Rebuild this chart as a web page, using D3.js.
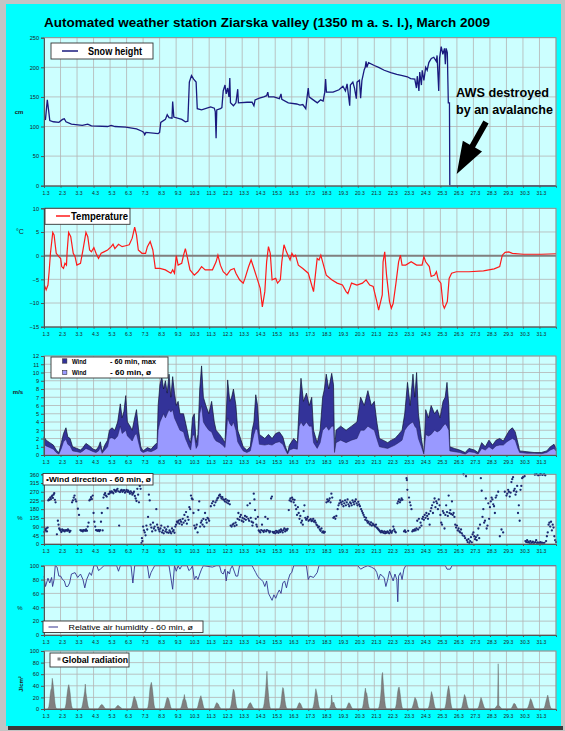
<!DOCTYPE html>
<html><head><meta charset="utf-8">
<script src="https://cdn.jsdelivr.net/npm/d3@7"></script>
<style>html,body{margin:0;padding:0;background:#c4c4c4;} svg{display:block;font-family:"Liberation Sans",Arial,sans-serif;}</style>
</head><body><svg id="c" width="565" height="731"></svg>
<script>
// ---- data: time is in days since 1 March 00:00 ----
const dayLabels = ["1.3","2.3","3.3","4.3","5.3","6.3","7.3","8.3","9.3","10.3","11.3","12.3","13.3","14.3","15.3","16.3","17.3","18.3","19.3","20.3","21.3","22.3","23.3","24.3","25.3","26.3","27.3","28.3","29.3","30.3","31.3"];
const snowTicks = [0,50,100,150,200,250];
const tempTicks = [-15,-10,-5,0,5,10];
const windTicks = [0,1,2,3,4,5,6,7,8,9,10,11,12];
const dirTicks = [0,45,90,135,180,225,270,315,360];
const humTicks = [0,20,40,60,80,100];
const radTicks = [0,20,40,60,80,100];

// snow height [day, cm]
const snow = [[0,113],[0.09,112],[0.2,145],[0.28,127],[0.35,110],[0.57,108],[0.9,107],[1.12,112],[1.23,113],[1.33,108],[1.66,104],[2.32,102],[2.65,104],[2.87,101],[3.85,100],[4.07,102],[4.3,100],[4.95,99],[5.6,96],[5.93,92],[6.04,90],[6.1,86],[6.17,90],[6.91,88],[7.0,90],[7.07,107],[7.35,112],[7.46,120],[7.57,115],[7.75,114],[7.79,142],[7.86,116],[8.34,112],[8.56,108],[8.71,109],[8.8,175],[8.93,186],[9.06,180],[9.21,175],[9.28,130],[9.54,128],[10.09,133],[10.31,131],[10.37,125],[10.42,80],[10.46,128],[10.68,130],[10.77,132],[10.85,160],[10.96,170],[11.03,155],[11.12,165],[11.2,150],[11.25,182],[11.29,140],[11.47,135],[11.62,140],[11.73,163],[11.77,140],[12.3,141],[12.6,141],[12.71,135],[12.78,145],[13.04,148],[13.3,150],[13.48,152],[13.55,158],[13.6,150],[13.92,150],[14.25,147],[14.35,155],[14.4,146],[14.79,140],[15.3,138],[15.5,136],[15.67,137],[15.85,130],[15.93,150],[16.0,165],[16.05,150],[16.3,145],[16.55,140],[16.75,145],[16.9,143],[17.0,158],[17.05,180],[17.1,158],[17.5,158],[17.86,162],[18.1,168],[18.25,160],[18.35,172],[18.51,135],[18.55,170],[18.7,175],[18.8,165],[18.91,147],[18.95,175],[19.1,178],[19.17,148],[19.25,178],[19.39,196],[19.45,200],[19.5,210],[19.55,200],[19.65,208],[20.0,203],[20.26,200],[20.6,195],[21.0,191],[21.36,188],[21.7,186],[22.0,184],[22.2,181],[22.45,180],[22.55,165],[22.6,185],[22.7,160],[22.75,192],[22.85,170],[22.9,195],[23.0,178],[23.11,200],[23.2,195],[23.3,208],[23.45,215],[23.6,217],[23.75,210],[23.8,220],[23.9,160],[23.95,215],[24.05,235],[24.15,222],[24.25,232],[24.3,205],[24.35,232],[24.42,225],[24.48,140],[24.55,140],[24.57,0],[31,0]];

// air temperature [day, °C]
const temperature = [[0,-6.2],[0.02,-6.2],[0.13,-7.2],[0.24,-6.2],[0.31,-3.4],[0.39,0.5],[0.53,4.9],[0.61,4.4],[0.74,0.5],[0.9,-0.2],[1.01,-0.6],[1.07,-2.3],[1.18,-2.7],[1.27,-1.6],[1.36,-2.0],[1.4,0.8],[1.49,4.9],[1.62,4.0],[1.77,0.5],[1.88,-0.2],[1.99,-2.0],[2.21,-1.6],[2.36,1.2],[2.54,4.9],[2.65,4.0],[2.76,1.2],[2.87,0.8],[3.02,1.7],[3.15,0.5],[3.3,-0.6],[3.46,0.5],[3.63,0.8],[3.85,1.2],[4.07,1.9],[4.18,2.4],[4.29,1.5],[4.51,2.4],[4.73,1.9],[4.95,2.1],[5.16,2.3],[5.34,3.7],[5.49,6.0],[5.6,4.4],[5.71,1.2],[5.93,0.5],[6.15,0.5],[6.26,1.9],[6.43,3.0],[6.59,1.2],[6.74,-2.7],[7.02,-2.7],[7.35,-3.0],[7.68,-3.7],[7.79,-3.0],[7.9,-3.7],[8.01,0],[8.12,-2.0],[8.34,-1.6],[8.45,0.1],[8.56,1.5],[8.67,-0.2],[8.84,-3.0],[9.1,-4.1],[9.32,-3.4],[9.54,-2.3],[9.76,-3.0],[10.2,-3.0],[10.42,-1.3],[10.53,0.1],[10.68,-2.0],[10.85,-3.4],[11.07,-4.1],[11.29,-3.0],[11.51,-2.7],[11.62,-3.7],[11.84,-5.1],[12.06,-5.8],[12.17,-4.8],[12.39,-2.3],[12.54,-0.9],[12.71,-2.7],[12.93,-5.1],[13.09,-6.9],[13.22,-10.8],[13.37,-7.6],[13.48,-1.3],[13.59,1.9],[13.7,0.5],[13.81,-5.1],[14.03,-4.8],[14.14,-5.8],[14.31,-5.1],[14.4,-1.3],[14.53,2.3],[14.68,0.8],[14.9,-0.9],[15.01,0.5],[15.12,-0.2],[15.23,0.1],[15.4,-2.0],[15.67,-2.7],[16.0,-3.7],[16.15,-5.5],[16.32,-7.6],[16.43,-4.1],[16.54,-0.6],[16.65,-0.9],[16.76,0.1],[16.87,-1.3],[17.09,-4.1],[17.42,-5.1],[17.75,-5.8],[18.07,-6.2],[18.29,-7.6],[18.4,-8.0],[18.51,-6.9],[18.62,-5.8],[18.95,-6.2],[19.28,-5.8],[19.5,-5.1],[19.72,-6.2],[19.93,-6.5],[20.15,-9.7],[20.26,-11.5],[20.48,-8.3],[20.53,-1.3],[20.63,0.8],[20.74,-4.1],[20.92,-9.7],[21.03,-11.1],[21.14,-10.1],[21.31,-5.8],[21.47,-1.3],[21.58,0.1],[21.68,-2.0],[21.9,-2.0],[22.23,-1.3],[22.56,-2.0],[22.89,-2.0],[23.0,-0.2],[23.11,-1.3],[23.33,-2.3],[23.44,-4.4],[23.65,-4.1],[23.76,-3.4],[23.87,-5.1],[24.03,-5.8],[24.16,-10.4],[24.24,-11.1],[24.42,-9.7],[24.53,-4.8],[24.68,-3.7],[24.97,-3.4],[25.73,-3.4],[26.61,-3.2],[27.26,-2.8],[27.59,-2.3],[27.75,0.1],[27.92,0.7],[28.14,0.8],[28.36,0.5],[29.02,0.3],[30.11,0.3],[31.0,0.4]];

// wind speed [day, 60 min mean, 60 min max]  (m/s)
const wind = [[0,1.3,2.2],[0.13,1.1,1.8],[0.35,0.9,1.5],[0.57,0.7,1.2],[0.74,0.3,0.6],[0.9,0.1,0.3],[1.05,0.8,1.5],[1.18,1.6,2.6],[1.33,1.9,3.3],[1.44,1.3,2.2],[1.58,1.1,2.0],[1.73,0.5,1.0],[1.99,0.4,0.8],[2.21,0.3,0.6],[2.36,0.5,0.9],[2.54,0.8,1.4],[2.76,0.6,1.1],[2.98,0.4,0.7],[3.15,0.3,0.6],[3.3,0.5,1.0],[3.41,0.9,1.6],[3.52,0.2,0.4],[3.68,0.6,1.2],[3.85,1.0,1.8],[3.96,2.0,3.0],[4.11,2.1,3.3],[4.29,1.9,3.0],[4.46,2.3,4.0],[4.62,3.5,6.2],[4.73,2.6,4.5],[4.84,2.8,5.3],[4.95,3.0,7.2],[5.05,2.3,4.0],[5.21,2.0,3.5],[5.34,1.7,3.0],[5.49,2.4,4.5],[5.6,2.6,5.5],[5.73,1.5,3.0],[5.86,0.5,1.0],[6.0,0.3,0.5],[6.26,0.5,0.9],[6.48,0.4,0.7],[6.7,0.6,1.2],[6.85,0.8,1.5],[6.91,3.0,6.0],[7.02,4.0,8.5],[7.13,4.5,9.5],[7.24,5.0,8.0],[7.35,4.5,9.0],[7.46,5.0,7.5],[7.57,5.5,9.8],[7.68,5.2,7.0],[7.79,5.5,9.5],[7.9,4.5,7.5],[8.01,4.0,6.0],[8.12,3.5,6.5],[8.23,3.0,5.0],[8.45,2.8,5.0],[8.56,2.0,4.0],[8.67,1.5,3.0],[8.77,1.0,2.0],[8.88,0.6,1.5],[8.99,2.3,4.5],[9.1,2.5,5.0],[9.21,0.8,1.5],[9.32,1.2,2.5],[9.43,5.0,8.0],[9.54,6.0,10.8],[9.65,4.0,7.0],[9.8,3.5,6.0],[9.98,3.0,5.0],[10.15,2.8,6.5],[10.31,2.0,4.0],[10.42,1.7,3.0],[10.63,1.5,2.5],[10.81,1.2,2.0],[10.96,0.9,1.5],[11.12,4.5,9.1],[11.25,3.8,6.5],[11.36,3.5,7.0],[11.47,4.0,8.0],[11.62,3.0,6.0],[11.73,1.6,3.0],[11.9,1.0,2.0],[12.06,0.5,1.0],[12.28,0.3,0.6],[12.49,0.5,1.0],[12.6,1.5,3.0],[12.71,2.5,4.0],[12.82,3.2,7.3],[12.93,3.0,6.0],[13.04,1.3,2.5],[13.37,1.2,2.0],[13.59,1.3,2.5],[13.81,1.2,2.0],[14.03,1.5,2.6],[14.25,1.6,2.8],[14.46,1.3,2.2],[14.62,0.6,1.0],[14.75,0.1,0.3],[14.86,0.6,1.2],[15.12,0.8,2.0],[15.34,0.7,1.5],[15.45,3.5,6.0],[15.56,4.0,9.3],[15.71,3.5,6.5],[15.89,4.0,7.5],[16.06,3.5,6.0],[16.21,3.5,7.0],[16.32,1.5,3.0],[16.54,0.8,1.5],[16.72,1.5,3.0],[16.87,3.0,7.0],[16.98,3.2,8.0],[17.09,3.5,9.8],[17.24,3.0,8.0],[17.42,3.5,9.9],[17.53,3.5,8.5],[17.59,0.3,0.3],[17.68,1.5,3.0],[17.96,1.8,3.5],[18.29,1.5,3.0],[18.62,1.8,3.5],[18.95,2.0,4.0],[19.17,3.0,7.0],[19.39,3.0,6.0],[19.61,3.5,7.8],[19.82,3.2,6.0],[20.0,3.0,6.5],[20.15,2.0,4.0],[20.31,1.0,2.0],[20.53,0.9,1.8],[20.81,0.8,1.5],[21.03,1.0,1.8],[21.25,1.2,2.0],[21.47,1.5,2.5],[21.68,1.8,3.0],[21.84,3.0,5.0],[22.01,3.5,8.8],[22.17,3.8,6.0],[22.34,4.0,9.8],[22.45,3.5,7.0],[22.56,3.2,10.0],[22.67,2.0,5.0],[22.85,1.0,2.0],[23.0,0.1,0.1],[23.11,2.5,5.5],[23.28,2.3,4.5],[23.44,2.5,6.0],[23.65,3.0,5.0],[23.81,2.8,5.5],[23.98,3.0,4.5],[24.16,3.5,6.5],[24.29,3.8,7.0],[24.4,3.5,8.8],[24.51,3.0,6.0],[24.57,0.5,1.0],[24.84,0.4,0.8],[25.17,0.3,0.6],[25.5,0.1,0.3],[25.73,0.4,0.8],[26.06,0.3,0.6],[26.28,0.1,0.3],[26.5,0.8,1.5],[26.72,0.6,1.0],[26.94,1.0,1.8],[27.16,0.7,1.2],[27.37,1.1,1.8],[27.59,1.2,2.0],[27.81,1.2,1.7],[28.03,1.6,2.5],[28.18,1.8,3.0],[28.36,2.0,3.3],[28.53,1.8,2.8],[28.69,0.8,1.5],[28.8,0.3,0.5],[29.24,0.2,0.4],[29.67,0.2,0.3],[30.11,0.15,0.3],[30.44,0.3,0.5],[30.66,0.6,1.0],[30.88,0.8,1.3],[31.0,0.5,0.8]];

// wind direction, 60 min mean [day, degrees]
const windDir = [[0.02,62],[0.06,75],[0.1,70],[0.14,80],[0.18,65],[0.22,85],[0.26,225],[0.3,230],[0.34,228],[0.38,240],[0.42,232],[0.46,245],[0.5,250],[0.54,238],[0.58,255],[0.62,262],[0.66,228],[0.7,215],[0.78,50],[0.84,120],[0.88,100],[0.92,80],[0.96,75],[1.0,70],[1.05,62],[1.1,75],[1.15,68],[1.2,72],[1.25,65],[1.3,70],[1.35,72],[1.4,68],[1.45,75],[1.5,70],[1.55,62],[1.6,68],[1.7,215],[1.75,225],[1.8,240],[1.85,250],[1.9,230],[1.95,220],[2.05,182],[2.12,150],[2.2,72],[2.25,68],[2.3,70],[2.35,65],[2.4,72],[2.45,70],[2.5,68],[2.55,75],[2.6,68],[2.65,90],[2.7,110],[2.75,225],[2.8,230],[2.85,242],[2.9,232],[2.95,250],[3.0,160],[3.05,115],[3.1,90],[3.15,72],[3.2,70],[3.25,68],[3.3,72],[3.35,66],[3.4,72],[3.45,115],[3.5,160],[3.55,70],[3.6,240],[3.65,255],[3.7,262],[3.75,250],[3.8,245],[3.85,185],[3.9,258],[3.95,260],[4.0,270],[4.05,265],[4.1,272],[4.15,268],[4.2,262],[4.25,280],[4.3,275],[4.35,270],[4.4,278],[4.45,285],[4.5,272],[4.55,95],[4.6,268],[4.65,275],[4.7,280],[4.75,270],[4.8,275],[4.85,278],[4.9,265],[4.95,272],[5.0,280],[5.05,270],[5.1,275],[5.15,268],[5.2,260],[5.25,272],[5.3,265],[5.35,255],[5.4,262],[5.45,270],[5.5,248],[5.55,235],[5.6,222],[5.65,285],[5.7,255],[5.75,215],[5.8,300],[5.85,285],[5.9,5],[5.93,30],[5.96,15],[6.0,90],[6.05,70],[6.1,60],[6.15,45],[6.2,95],[6.25,75],[6.3,140],[6.35,255],[6.4,225],[6.45,100],[6.5,85],[6.55,65],[6.6,110],[6.65,80],[6.7,90],[6.75,70],[6.8,180],[6.85,100],[6.9,85],[6.95,75],[7.0,65],[7.05,80],[7.1,95],[7.15,60],[7.2,70],[7.25,55],[7.3,85],[7.35,65],[7.4,75],[7.45,60],[7.5,90],[7.55,58],[7.6,70],[7.65,62],[7.7,55],[7.75,80],[7.8,65],[7.85,72],[7.9,58],[7.95,90],[8.0,100],[8.05,115],[8.1,110],[8.15,120],[8.2,105],[8.25,125],[8.3,115],[8.35,100],[8.4,130],[8.45,110],[8.5,150],[8.55,120],[8.6,165],[8.65,105],[8.7,140],[8.75,125],[8.8,190],[8.85,180],[8.9,250],[8.95,235],[9.0,230],[9.05,160],[9.1,95],[9.15,80],[9.2,85],[9.25,100],[9.3,60],[9.35,175],[9.4,220],[9.45,90],[9.5,110],[9.55,120],[9.6,100],[9.65,130],[9.7,90],[9.75,160],[9.8,125],[9.85,110],[9.9,135],[9.95,130],[10.0,120],[10.1,195],[10.17,210],[10.24,220],[10.31,200],[10.38,215],[10.45,225],[10.5,235],[10.55,240],[10.6,250],[10.65,255],[10.7,245],[10.75,235],[10.8,242],[10.85,230],[10.9,228],[10.95,220],[11.0,232],[11.05,215],[11.1,225],[11.15,210],[11.2,222],[11.25,205],[11.3,95],[11.36,90],[11.42,100],[11.48,105],[11.54,92],[11.6,110],[11.66,98],[11.72,130],[11.77,160],[11.82,125],[11.87,140],[11.92,150],[11.97,120],[12.02,135],[12.07,115],[12.12,130],[12.17,145],[12.22,125],[12.27,140],[12.32,200],[12.37,130],[12.42,120],[12.47,210],[12.52,135],[12.57,115],[12.62,95],[12.66,110],[12.7,260],[12.74,230],[12.78,175],[12.82,130],[12.86,100],[12.9,90],[12.95,140],[13.0,70],[13.05,65],[13.1,60],[13.15,72],[13.2,100],[13.25,68],[13.3,62],[13.35,70],[13.4,140],[13.45,65],[13.5,72],[13.55,130],[13.6,68],[13.65,60],[13.7,65],[13.75,235],[13.8,245],[13.85,62],[13.9,58],[13.95,62],[14.0,55],[14.05,68],[14.1,60],[14.15,65],[14.2,58],[14.25,70],[14.3,62],[14.35,75],[14.4,68],[14.45,60],[14.5,72],[14.55,80],[14.6,65],[14.65,75],[14.7,70],[14.75,78],[14.82,175],[14.87,225],[14.92,235],[14.97,220],[15.02,240],[15.07,230],[15.12,215],[15.17,228],[15.22,200],[15.27,180],[15.32,150],[15.37,190],[15.42,160],[15.47,130],[15.52,145],[15.57,110],[15.62,120],[15.67,100],[15.72,170],[15.77,200],[15.82,135],[15.87,125],[15.92,130],[15.97,140],[16.02,120],[16.1,125],[16.15,128],[16.2,118],[16.25,122],[16.3,130],[16.35,115],[16.4,120],[16.45,110],[16.5,100],[16.55,95],[16.6,85],[16.65,90],[16.7,75],[16.75,68],[16.8,80],[16.85,60],[16.9,65],[16.95,58],[17.0,62],[17.1,215],[17.15,230],[17.2,220],[17.25,225],[17.3,235],[17.35,215],[17.4,260],[17.45,240],[17.52,135],[17.58,140],[17.64,130],[17.7,145],[17.78,180],[17.83,200],[17.88,210],[17.93,225],[17.98,215],[18.03,205],[18.08,220],[18.13,195],[18.18,210],[18.23,225],[18.28,200],[18.33,215],[18.38,230],[18.43,205],[18.48,195],[18.53,215],[18.58,210],[18.63,200],[18.68,225],[18.73,215],[18.78,205],[18.83,220],[18.88,230],[18.93,210],[18.98,200],[19.03,218],[19.08,205],[19.13,195],[19.2,180],[19.25,170],[19.3,160],[19.35,150],[19.4,140],[19.45,125],[19.5,135],[19.55,120],[19.6,110],[19.65,115],[19.7,105],[19.75,100],[19.8,112],[19.85,95],[19.9,105],[19.95,100],[20.0,95],[20.05,90],[20.1,100],[20.15,85],[20.2,80],[20.25,75],[20.3,70],[20.35,65],[20.4,60],[20.45,68],[20.5,62],[20.55,58],[20.6,65],[20.65,55],[20.7,62],[20.75,58],[20.8,65],[20.85,60],[20.9,55],[20.95,70],[21.0,62],[21.05,58],[21.1,68],[21.15,90],[21.2,75],[21.25,65],[21.3,60],[21.4,210],[21.45,220],[21.5,230],[21.55,215],[21.6,225],[21.65,235],[21.7,228],[21.8,65],[21.85,70],[21.9,62],[21.95,340],[21.97,330],[22.0,280],[22.05,68],[22.1,240],[22.15,215],[22.2,200],[22.25,180],[22.3,65],[22.35,72],[22.4,68],[22.45,75],[22.5,70],[22.55,80],[22.6,120],[22.65,75],[22.7,130],[22.75,85],[22.8,110],[22.85,95],[22.9,130],[22.95,140],[23.0,125],[23.05,150],[23.1,135],[23.15,160],[23.2,145],[23.25,130],[23.3,155],[23.35,100],[23.4,170],[23.45,185],[23.5,200],[23.55,160],[23.6,215],[23.65,235],[23.7,190],[23.75,220],[23.8,210],[23.85,180],[23.9,230],[23.95,200],[24.0,150],[24.05,110],[24.1,100],[24.15,170],[24.2,160],[24.25,80],[24.3,150],[24.35,200],[24.4,165],[24.45,145],[24.5,250],[24.55,160],[24.6,175],[24.65,155],[24.7,220],[24.75,150],[24.8,160],[24.85,140],[24.9,100],[24.95,85],[25.0,95],[25.05,70],[25.1,80],[25.15,65],[25.2,60],[25.25,75],[25.3,55],[25.35,45],[25.4,360],[25.45,40],[25.5,30],[25.55,350],[25.6,20],[25.65,10],[25.7,25],[25.75,5],[25.8,15],[25.85,35],[25.9,8],[25.95,50],[26.0,60],[26.05,40],[26.1,25],[26.15,35],[26.2,20],[26.25,45],[26.3,80],[26.35,30],[26.4,100],[26.45,340],[26.5,275],[26.55,140],[26.6,180],[26.65,110],[26.7,120],[26.75,235],[26.8,80],[26.85,95],[26.9,210],[26.95,130],[27.0,190],[27.05,220],[27.1,240],[27.15,230],[27.2,205],[27.25,195],[27.3,160],[27.35,240],[27.4,250],[27.5,270],[27.6,40],[27.7,75],[27.8,60],[27.9,270],[28.0,250],[28.05,260],[28.1,280],[28.15,270],[28.2,245],[28.25,265],[28.3,320],[28.35,335],[28.4,345],[28.45,275],[28.5,285],[28.55,255],[28.6,270],[28.65,300],[28.7,160],[28.75,200],[28.8,120],[28.85,280],[28.9,300],[28.95,340],[29.0,345],[29.1,350],[29.15,15],[29.2,10],[29.25,20],[29.3,8],[29.35,12],[29.4,5],[29.45,15],[29.5,3],[29.55,8],[29.6,12],[29.65,2],[29.7,6],[29.75,10],[29.8,20],[29.85,4],[29.9,8],[29.95,2],[30.0,5],[30.05,10],[30.1,3],[30.15,7],[30.2,0],[30.25,4],[30.3,6],[29.72,358],[29.82,360],[29.92,355],[30.02,358],[30.08,360],[30.18,357],[30.28,360],[30.35,355],[30.4,15],[30.45,40],[30.5,60],[30.55,100],[30.6,110],[30.65,90],[30.7,115],[30.75,70],[30.8,100],[30.85,85],[30.9,40],[30.95,20],[31.0,10]];

// relative air humidity, 60 min mean [day, %]
const humidity = [[0,85],[0.09,70],[0.24,82],[0.35,75],[0.46,83],[0.52,70],[0.61,80],[0.68,100],[0.79,98],[0.9,85],[1.01,85],[1.12,80],[1.23,78],[1.33,70],[1.44,70],[1.55,75],[1.66,88],[1.88,90],[2.04,83],[2.21,88],[2.36,80],[2.47,68],[2.58,80],[2.76,90],[2.87,86],[3.02,100],[3.2,100],[3.3,93],[3.41,95],[3.63,100],[4.4,100],[4.51,92],[4.62,100],[5.27,100],[5.38,75],[5.49,100],[6.26,100],[6.37,82],[6.48,90],[6.59,95],[6.7,100],[7.57,100],[7.79,66],[7.9,100],[8.01,92],[8.12,100],[8.23,95],[8.34,100],[8.67,100],[8.77,93],[8.88,95],[8.99,100],[9.1,80],[9.21,85],[9.32,80],[9.43,88],[9.54,95],[9.65,100],[10.2,98],[10.42,100],[10.63,100],[10.74,90],[10.85,88],[10.96,95],[11.03,78],[11.12,92],[11.23,88],[11.29,95],[11.4,100],[11.62,85],[11.73,85],[11.84,100],[12.6,100],[12.71,95],[12.82,90],[12.93,85],[13.04,82],[13.15,80],[13.26,77],[13.37,70],[13.48,78],[13.59,60],[13.7,55],[13.81,50],[13.92,58],[14.03,53],[14.14,60],[14.25,65],[14.35,60],[14.46,75],[14.57,78],[14.68,68],[14.79,80],[14.9,88],[15.0,90],[15.12,100],[15.89,100],[16.0,80],[16.1,85],[16.32,83],[16.54,90],[16.65,100],[19.0,100],[19.17,95],[19.39,98],[19.61,100],[19.82,98],[20.04,95],[20.15,90],[20.26,80],[20.37,88],[20.48,85],[20.59,83],[20.7,70],[20.81,80],[20.92,92],[21.03,85],[21.14,78],[21.25,88],[21.36,80],[21.42,48],[21.47,85],[21.58,90],[21.68,80],[21.79,95],[21.9,100],[24.3,100],[24.4,95],[24.6,95],[24.7,100],[31,100]];

// global radiation: hourly sums for 05..19 h of each day of March (J/cm²)
const radHours = [5,6,7,8,9,10,11,12,13,14,15,16,17,18,19];
const radiation = [
 [0,1,4,12,25,33,36,53,45,35,22,10,3,1,0],[0,1,3,9,20,30,38,42,36,28,15,6,2,0,0],[0,1,3,8,15,22,30,43,28,20,12,5,2,0,0],
 [0,0,1,2,4,6,7,8,7,6,4,2,1,0,0],[0,0,1,2,3,5,6,6,5,4,3,2,1,0,0],[0,1,2,6,12,18,22,20,17,14,9,4,1,0,0],
 [0,1,3,10,22,36,42,46,40,30,18,7,2,0,0],[0,1,2,6,11,16,20,19,18,14,9,4,1,0,0],[0,1,2,6,11,16,18,25,17,15,10,4,1,0,0],
 [0,1,2,7,12,17,20,23,18,14,8,3,1,0,0],[0,0,1,3,6,9,11,10,9,7,4,2,1,0,0],[0,1,3,8,16,26,34,33,27,18,9,3,1,0,0],
 [0,0,1,3,6,9,10,11,9,7,4,2,1,0,0],[0,1,4,10,20,32,48,65,42,28,14,5,1,0,0],[0,1,3,8,18,30,37,35,26,16,8,3,1,0,0],
 [0,0,1,3,6,9,11,10,9,6,3,1,0,0,0],[0,1,3,8,16,26,35,30,24,16,8,3,1,0,0],[0,0,1,4,8,24,12,9,12,8,4,2,1,0,0],
 [0,0,1,3,6,9,11,10,8,5,3,1,0,0,0],[0,1,3,9,18,28,36,29,27,20,10,4,1,0,0],[0,1,4,10,20,35,58,63,46,30,16,6,1,0,0],
 [0,1,3,9,20,30,36,38,32,22,12,5,1,0,0],[0,1,2,6,10,15,20,18,16,12,6,2,1,0,0],[0,1,3,7,14,22,30,26,21,15,8,3,1,0,0],
 [0,1,3,9,18,28,35,40,33,24,12,5,1,0,0],[0,1,2,7,13,19,25,22,19,13,7,3,1,0,0],[0,1,2,5,10,15,20,17,13,9,5,2,1,0,0],
 [0,0,1,2,4,5,7,78,6,5,3,2,1,0,0],[0,0,1,3,5,8,10,9,8,5,3,1,0,0,0],[0,1,2,5,9,14,18,16,13,9,5,2,1,0,0],
 [0,1,2,6,11,16,20,24,19,13,7,3,1,0,0]];

// ---- drawing ----
const svg = d3.select('#c');
const FONT = '"Liberation Sans", Arial, sans-serif';
const X0 = 44, X1 = 556;
const x = d3.scaleLinear().domain([0, 31]).range([X0, X1]);

// page background
svg.append('rect').attr('width',565).attr('height',731).attr('fill','#c4c4c4');
svg.append('rect').attr('x',8).attr('y',726).attr('width',555).attr('height',4).attr('fill','#3a3a3a');
svg.append('rect').attr('x',6).attr('y',4).attr('width',555).attr('height',722).attr('fill','#00ffff');

svg.append('text').attr('x',44).attr('y',27).attr('font-size',13).attr('font-weight','bold')
  .attr('textLength',446).attr('lengthAdjust','spacingAndGlyphs')
  .text('Automated weather station Ziarska valley (1350 m a. s. l.), March 2009');

function panel(top, bottom, domain, ticks) {
  const y = d3.scaleLinear().domain(domain).range([bottom, top]);
  const bg = svg.append('g'), marks = svg.append('g'), ax = svg.append('g');
  bg.append('rect').attr('x',X0).attr('y',top).attr('width',X1-X0).attr('height',bottom-top).attr('fill','#ccffff');
  bg.selectAll(null).data(ticks).join('line')
    .attr('x1',X0).attr('x2',X1).attr('y1',d=>y(d)).attr('y2',d=>y(d))
    .attr('stroke','#b4b4b4').attr('stroke-width',0.8);
  bg.selectAll(null).data(d3.range(1,32)).join('line')
    .attr('x1',d=>x(d)).attr('x2',d=>x(d)).attr('y1',top).attr('y2',bottom)
    .attr('stroke','#b4b4b4').attr('stroke-width',0.8);
  ax.append('rect').attr('x',X0).attr('y',top).attr('width',X1-X0).attr('height',bottom-top)
    .attr('fill','none').attr('stroke','#8a8a8a').attr('stroke-width',0.8);
  const yAxis = ax.append('g').attr('transform',`translate(${X0},0)`)
    .call(d3.axisLeft(y).tickValues(ticks).tickSize(3).tickPadding(2));
  yAxis.selectAll('text').attr('font-size',5.6).attr('font-family',FONT).attr('fill','#222');
  const xAxis = ax.append('g').attr('transform',`translate(0,${bottom})`)
    .call(d3.axisBottom(x).tickValues(d3.range(0,31)).tickFormat(i=>dayLabels[i]).tickSize(2).tickPadding(3.5));
  xAxis.selectAll('text').attr('font-size',5).attr('font-family',FONT).attr('fill','#222').attr('dx',1.5);
  ax.selectAll('.domain').attr('stroke','#555').attr('stroke-width',1);
  ax.selectAll('.tick line').attr('stroke','#555');
  return {y, marks, ax};
}

function legendBox(g, x0, y0, w, h) {
  g.append('rect').attr('x',x0).attr('y',y0).attr('width',w).attr('height',h)
    .attr('fill','#ffffff').attr('stroke','#333').attr('stroke-width',0.9);
}
function unitLabel(txt, x0, y0, size, bold) {
  svg.append('text').attr('x',x0).attr('y',y0).attr('text-anchor','middle')
    .attr('font-size',size).attr('font-weight',bold?'bold':'normal').attr('fill','#222').text(txt);
}

// --- snow height ---
{
  const p = panel(37.7, 185.7, [0,250], snowTicks);
  p.marks.append('path').datum(snow)
    .attr('d', d3.line().x(d=>x(d[0])).y(d=>p.y(d[1])))
    .attr('fill','none').attr('stroke','#1a1a7e').attr('stroke-width',1.3);
  legendBox(p.ax, 51, 43, 102, 16);
  p.ax.append('line').attr('x1',62).attr('x2',78).attr('y1',51).attr('y2',51).attr('stroke','#1a1a7e').attr('stroke-width',1.5);
  p.ax.append('text').attr('x',88).attr('y',54.5).attr('font-size',10).attr('font-weight','bold')
    .attr('textLength',54).attr('lengthAdjust','spacingAndGlyphs').text('Snow height');
  unitLabel('cm', 19, 114, 6, true);
  // annotation
  p.ax.append('text').attr('x',456).attr('y',97).attr('font-size',12.5).attr('font-weight','bold')
    .attr('textLength',93).attr('lengthAdjust','spacingAndGlyphs').text('AWS destroyed');
  p.ax.append('text').attr('x',456).attr('y',114).attr('font-size',12.5).attr('font-weight','bold')
    .attr('textLength',97).attr('lengthAdjust','spacingAndGlyphs').text('by an avalanche');
  // arrow pointing at the drop
  const S = [486,122], T = [x(25.05)-1, 174];
  const dx = T[0]-S[0], dy = T[1]-S[1], L = Math.hypot(dx,dy);
  const ux = dx/L, uy = dy/L, nx = -uy, ny = ux;
  const hl = 32, hw = 11, sw = 3;
  const B = [T[0]-ux*hl, T[1]-uy*hl];
  const pts = [
    [S[0]+nx*sw, S[1]+ny*sw], [B[0]+nx*sw, B[1]+ny*sw], [B[0]+nx*hw, B[1]+ny*hw], T,
    [B[0]-nx*hw, B[1]-ny*hw], [B[0]-nx*sw, B[1]-ny*sw], [S[0]-nx*sw, S[1]-ny*sw]];
  p.ax.append('path').attr('d', d3.line()(pts)+'Z').attr('fill','#000');
}

// --- temperature ---
{
  const p = panel(208.3, 326.7, [-15,10], tempTicks);
  p.marks.append('line').attr('x1',X0).attr('x2',X1).attr('y1',p.y(0)).attr('y2',p.y(0))
    .attr('stroke','#808080').attr('stroke-width',2);
  p.marks.append('path').datum(temperature)
    .attr('d', d3.line().x(d=>x(d[0])).y(d=>p.y(d[1])))
    .attr('fill','none').attr('stroke','#ff1a1a').attr('stroke-width',1.2);
  legendBox(p.ax, 45, 208.3, 85, 16);
  p.ax.append('line').attr('x1',56).attr('x2',70).attr('y1',216).attr('y2',216).attr('stroke','#ff1a1a').attr('stroke-width',1.5);
  p.ax.append('text').attr('x',71).attr('y',219.5).attr('font-size',10).attr('font-weight','bold')
    .attr('textLength',57).attr('lengthAdjust','spacingAndGlyphs').text('Temperature');
  unitLabel('°C', 20, 234, 7, false);
}

// --- wind speed ---
{
  const p = panel(356, 455, [0,12], windTicks);
  p.marks.append('path').datum(wind)
    .attr('d', d3.area().x(d=>x(d[0])).y0(p.y(0)).y1(d=>p.y(d[2])))
    .attr('fill','#333399').attr('stroke','#111133').attr('stroke-width',0.7);
  p.marks.append('path').datum(wind)
    .attr('d', d3.area().x(d=>x(d[0])).y0(p.y(0)).y1(d=>p.y(d[1])))
    .attr('fill','#9999ff');
  p.marks.append('path').datum(wind)
    .attr('d', d3.line().x(d=>x(d[0])).y(d=>p.y(d[1])))
    .attr('fill','none').attr('stroke','#222255').attr('stroke-width',0.5);
  legendBox(p.ax, 51, 357, 117, 21);
  [[361,'#333399','- 60 min, max',46],[372.5,'#9999ff','- 60 min, ø',41]].forEach(([cy,col,t,w])=>{
    p.ax.append('rect').attr('x',62.5).attr('y',cy-2.2).attr('width',4.4).attr('height',4.4)
      .attr('fill',col).attr('stroke','#222').attr('stroke-width',0.5);
    p.ax.append('text').attr('x',72).attr('y',cy+2.6).attr('font-size',7.5).attr('font-weight','bold')
      .attr('textLength',14.5).attr('lengthAdjust','spacingAndGlyphs').text('Wind');
    p.ax.append('text').attr('x',110).attr('y',cy+2.6).attr('font-size',7.5).attr('font-weight','bold')
      .attr('textLength',w).attr('lengthAdjust','spacingAndGlyphs').text(t);
  });
  unitLabel('m/s', 18, 394, 6, true);
}

// --- wind direction ---
{
  const p = panel(474.3, 544, [0,360], dirTicks);
  p.marks.selectAll(null).data(windDir).join('circle')
    .attr('cx',d=>x(d[0])).attr('cy',d=>p.y(d[1])).attr('r',1.15).attr('fill','#1c2870');
  legendBox(p.ax, 43, 473.5, 110, 11.5);
  p.ax.append('text').attr('x',46).attr('y',482).attr('font-size',7.5).attr('font-weight','bold')
    .attr('textLength',105).attr('lengthAdjust','spacingAndGlyphs').text('•Wind direction - 60 min, ø');
  unitLabel('%', 20, 520, 6, false);
}

// --- relative humidity ---
{
  const p = panel(565.7, 635, [0,100], humTicks);
  p.marks.append('path').datum(humidity)
    .attr('d', d3.line().x(d=>x(d[0])).y(d=>p.y(d[1])))
    .attr('fill','none').attr('stroke','#33338f').attr('stroke-width',0.9);
  legendBox(p.ax, 43, 621, 160, 11.5);
  p.ax.append('line').attr('x1',48.5).attr('x2',58).attr('y1',627).attr('y2',627).attr('stroke','#33338f').attr('stroke-width',1);
  p.ax.append('text').attr('x',68.5).attr('y',629.8).attr('font-size',8)
    .attr('textLength',124.5).attr('lengthAdjust','spacingAndGlyphs').text('Relative air humidity - 60 min, ø');
  unitLabel('%', 20, 610, 6, false);
}

// --- global radiation ---
{
  const p = panel(651, 709, [0,100], radTicks);
  const series = [];
  radiation.forEach((day, i) => {
    day.forEach((v, k) => series.push([i + radHours[k]/24, v]));
  });
  p.marks.append('path').datum(series)
    .attr('d', d3.area().x(d=>x(d[0])).y0(p.y(0)).y1(d=>p.y(d[1])))
    .attr('fill','#808080').attr('stroke','#5a5a5a').attr('stroke-width',0.4);
  legendBox(p.ax, 50, 653, 79, 14);
  p.ax.append('rect').attr('x',57.5).attr('y',657.5).attr('width',3).attr('height',3).attr('fill','#808080');
  p.ax.append('text').attr('x',62).attr('y',663).attr('font-size',8.5).attr('font-weight','bold')
    .attr('textLength',66).attr('lengthAdjust','spacingAndGlyphs').text('Global radiation');
  svg.append('text').attr('transform','translate(23,684) rotate(-90)').attr('text-anchor','middle')
    .attr('font-size',6).attr('font-weight','bold').attr('fill','#222').text('J/cm²');
}
</script></body></html>
